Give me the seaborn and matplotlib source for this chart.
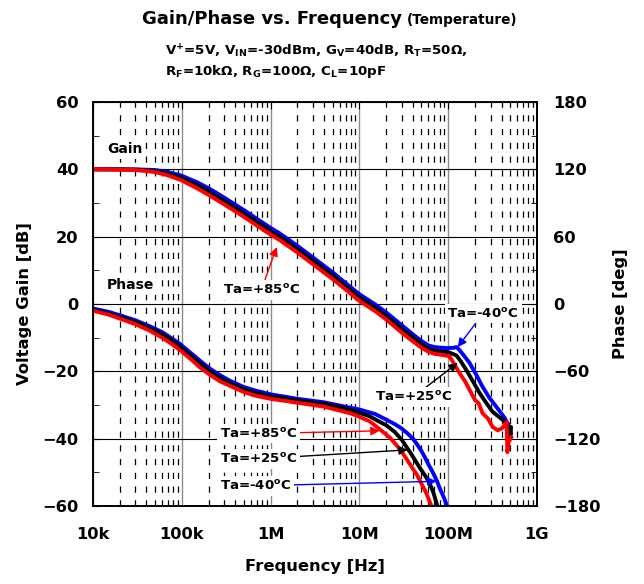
import numpy as np
import pandas as pd
import matplotlib
matplotlib.use('Agg')
import matplotlib.pyplot as plt
import seaborn as sns
from matplotlib.ticker import LogLocator, MultipleLocator, FixedLocator, FixedFormatter, NullFormatter

# gain data [dB]
gain_f_m40 = [1e4, 2e4, 3e4, 5e4, 7e4, 1e5, 1.5e5, 2e5, 3e5, 5e5, 7e5, 1e6, 1.26e6, 2e6, 3e6, 5e6, 7e6, 1e7,
              1.5e7, 2e7, 3e7, 4e7, 5e7, 6e7, 7e7, 8.5e7, 1e8, 1.15e8, 1.24e8, 1.34e8, 1.5e8, 1.74e8,
              2.05e8, 2.44e8, 2.9e8, 3.5e8, 4.31e8, 4.9e8, 5.1e8]
gain_m40 = [40.0, 40.0, 40.0, 39.8, 39.2, 38.1, 36.1, 34.4, 31.6, 27.9, 25.3, 22.6, 21.0, 17.3, 13.8, 9.4, 6.2, 2.9,
            -0.1, -2.5, -6.3, -9.0, -11.0, -12.3, -12.8, -13.0, -13.1, -13.0, -12.8, -13.7, -15.3, -17.5,
            -20.8, -24.6, -27.8, -30.6, -33.8, -36.5, -38.5]

gain_f_25 = [1e4, 2e4, 3e4, 5e4, 7e4, 1e5, 1.5e5, 2e5, 3e5, 5e5, 7e5, 1e6, 1.26e6, 2e6, 3e6, 5e6, 7e6, 1e7,
             1.5e7, 2e7, 3e7, 4e7, 5e7, 6e7, 7e7, 8.5e7, 1e8, 1.12e8, 1.24e8, 1.4e8, 1.6e8, 1.9e8, 2.25e8,
             2.7e8, 3.16e8, 3.6e8, 4.1e8, 4.5e8, 4.9e8, 5.0e8, 5.1e8]
gain_25 = [40.0, 40.0, 39.9, 39.5, 38.7, 37.4, 35.2, 33.4, 30.6, 26.9, 24.3, 21.6, 20.0, 16.3, 12.8, 8.4, 5.2, 1.9,
           -1.1, -3.5, -7.4, -10.0, -12.0, -13.3, -13.9, -14.1, -14.3, -14.8, -15.3, -17.2, -19.6, -23.0, -26.4,
           -29.5, -32.0, -33.2, -34.4, -35.3, -36.6, -39.8, -36.5]

gain_f_85 = [1e4, 2e4, 3e4, 5e4, 7e4, 1e5, 1.5e5, 2e5, 3e5, 5e5, 7e5, 1e6, 1.26e6, 2e6, 3e6, 5e6, 7e6, 1e7,
             1.5e7, 2e7, 3e7, 4e7, 5e7, 6e7, 7e7, 8.5e7, 1.03e8, 1.15e8, 1.34e8, 1.55e8, 1.74e8, 2.0e8,
             2.2e8, 2.44e8, 2.8e8, 3.16e8, 3.6e8, 4.0e8, 4.3e8, 4.54e8, 4.64e8, 4.8e8, 5.17e8]
gain_85 = [40.0, 39.9, 39.8, 39.2, 38.2, 36.7, 34.3, 32.4, 29.6, 25.9, 23.3, 20.6, 19.0, 15.3, 11.8, 7.4, 4.3, 0.9,
           -2.1, -4.6, -8.5, -11.1, -13.0, -14.2, -14.8, -15.1, -15.5, -17.5, -20.5, -23.0, -25.5, -28.5,
           -29.5, -32.5, -34.0, -36.5, -37.5, -37.0, -36.0, -35.0, -44.0, -41.0, -39.5]

# phase data [deg]
ph_f_m40 = [1e4, 1.5e4, 2e4, 3e4, 4.4e4, 6e4, 7.5e4, 9.5e4, 1.3e5, 1.6e5, 2.06e5, 2.7e5, 3.5e5, 5e5, 7e5,
            1e6, 1.5e6, 2e6, 3e6, 4e6, 6e6, 8e6, 1e7, 1.5e7, 2e7, 2.5e7, 3e7, 3.5e7, 4e7, 4.5e7, 5e7,
            5.5e7, 6e7, 6.5e7, 7e7, 7.5e7, 8e7, 8.5e7, 9e7, 9.5e7, 1.02e8]
ph_m40 = [-4, -7, -10, -14.5, -20, -25, -30, -35.5, -44.5, -50.5, -57.5, -63.5, -68.5, -74, -77.5,
          -80.5, -82.8, -84.5, -86.3, -87.6, -90.5, -92.5, -94, -98, -103, -107, -111, -115.5, -120, -125.5, -131,
          -137, -143, -148, -153, -158, -164, -168.5, -173, -178, -184]

ph_f_25 = [1e4, 1.5e4, 2e4, 3e4, 4.4e4, 6e4, 7.5e4, 9.5e4, 1.3e5, 1.6e5, 2.06e5, 2.7e5, 3.5e5, 5e5, 7e5,
           1e6, 1.5e6, 2e6, 3e6, 4e6, 6e6, 8e6, 1e7, 1.3e7, 1.6e7, 2e7, 2.5e7, 3e7, 3.5e7, 4e7, 4.7e7,
           5.5e7, 6.2e7, 6.8e7, 7.3e7, 7.8e7]
ph_25 = [-5, -8.5, -11.5, -16, -21.6, -27, -32, -38, -47, -53, -60, -66, -70.6, -76, -79.5,
         -82.5, -84.5, -86, -87.8, -89, -92, -94.5, -97, -100, -104, -108, -114, -121, -129, -136, -145,
         -153, -160, -168, -176, -184]

ph_f_85 = [1e4, 1.5e4, 2e4, 3e4, 4.4e4, 6e4, 7.5e4, 9.5e4, 1.3e5, 1.6e5, 2.06e5, 2.7e5, 3.5e5, 5e5, 7e5,
           1e6, 1.5e6, 2e6, 3e6, 4e6, 6e6, 8e6, 1e7, 1.3e7, 1.6e7, 2.2e7, 2.7e7, 3.2e7, 3.8e7, 4.5e7, 5.3e7,
           5.7e7, 6.1e7, 6.4e7, 6.7e7]
ph_85 = [-6, -9.5, -13, -18, -24, -30, -35, -41, -50, -56.5, -63, -69, -73, -78.5, -82,
         -84.5, -86.5, -88, -90, -91.5, -95, -97.5, -100.5, -104.5, -110, -119, -127, -135, -144, -153, -164,
         -169, -175, -179, -185]

temps = ['Ta=-40°C', 'Ta=+25°C', 'Ta=+85°C']
colors = {'Ta=-40°C': '#0000ff', 'Ta=+25°C': '#000000', 'Ta=+85°C': '#ff0000'}

gain_df = pd.concat([
    pd.DataFrame({'freq': gain_f_m40, 'val': gain_m40, 'temp': temps[0]}),
    pd.DataFrame({'freq': gain_f_25, 'val': gain_25, 'temp': temps[1]}),
    pd.DataFrame({'freq': gain_f_85, 'val': gain_85, 'temp': temps[2]}),
])
phase_df = pd.concat([
    pd.DataFrame({'freq': ph_f_m40, 'val': ph_m40, 'temp': temps[0]}),
    pd.DataFrame({'freq': ph_f_25, 'val': ph_25, 'temp': temps[1]}),
    pd.DataFrame({'freq': ph_f_85, 'val': ph_85, 'temp': temps[2]}),
])

sns.set_style('white')
plt.rcParams['font.family'] = ['DejaVu Sans']
plt.rcParams['font.weight'] = 'bold'
plt.rcParams['mathtext.default'] = 'bf'
plt.rcParams['text.color'] = 'black'
plt.rcParams['axes.labelcolor'] = 'black'
plt.rcParams['xtick.color'] = 'black'
plt.rcParams['ytick.color'] = 'black'

fig = plt.figure(figsize=(6.44, 5.84), dpi=100)
ax = fig.add_axes([93/644, 1-506/584, (537-93)/644, (506-102)/584])
ax.set_xscale('log')

sns.lineplot(data=gain_df, x='freq', y='val', hue='temp', hue_order=temps, palette=colors,
             lw=2.8, ax=ax, legend=False, sort=False, estimator=None)
ax2 = ax.twinx()
sns.lineplot(data=phase_df, x='freq', y='val', hue='temp', hue_order=temps, palette=colors,
             lw=2.8, ax=ax2, legend=False, sort=False, estimator=None)

ax.set_xlim(1e4, 1e9)
ax.set_ylim(-60, 60)
ax2.set_ylim(-180, 180)

ax.xaxis.set_minor_locator(LogLocator(base=10, subs=np.arange(2, 10), numticks=20))
ax.xaxis.set_minor_formatter(NullFormatter())
ax.xaxis.set_major_locator(FixedLocator([1e4, 1e5, 1e6, 1e7, 1e8, 1e9]))
ax.xaxis.set_major_formatter(FixedFormatter(['10k', '100k', '1M', '10M', '100M', '1G']))
ax.yaxis.set_major_locator(MultipleLocator(20))
ax.yaxis.set_minor_locator(MultipleLocator(10))
ax2.yaxis.set_major_locator(MultipleLocator(60))
ax2.yaxis.set_minor_locator(MultipleLocator(30))

ax.grid(which='major', axis='y', color='black', lw=0.8)
ax.grid(which='major', axis='x', color='#8c8c8c', lw=1.0)
ax.grid(which='minor', axis='x', color='black', lw=0.9, linestyle=(0, (5, 6)))
ax.set_axisbelow(True)

ax.tick_params(which='both', direction='in', top=True, labelsize=11.7)
ax.tick_params(axis='y', which='major', length=5, pad=10.5)
ax.tick_params(axis='y', which='minor', length=4)
ax.tick_params(axis='x', which='major', length=5, pad=15)
ax.tick_params(axis='x', which='minor', length=3)
ax2.tick_params(which='both', direction='in', labelsize=11.7, pad=11.5)
ax2.tick_params(which='major', length=5)
ax2.tick_params(which='minor', length=4)
for a in (ax, ax2):
    for s in a.spines.values():
        s.set_color('black')
        s.set_linewidth(1.2)
    for lab in a.get_xticklabels() + a.get_yticklabels():
        lab.set_fontweight('bold')

ax.set_xlabel('')
ax.set_ylabel('')
ax2.set_ylabel('')
fig.text(315/644, 1-566/584, 'Frequency [Hz]', ha='center', va='center', fontsize=11.8, fontweight='bold')
fig.text(25/644, 1-304/584, 'Voltage Gain [dB]', ha='center', va='center', rotation=90,
         fontsize=11.8, fontweight='bold')
fig.text(620/644, 1-304/584, 'Phase [deg]', ha='center', va='center', rotation=90,
         fontsize=11.8, fontweight='bold')

# title, with the smaller part put right after the main part
t1 = fig.text(142/644, 1-19/584, 'Gain/Phase vs. Frequency', ha='left', va='center',
              fontsize=13, fontweight='bold')
fig.canvas.draw()
bb = t1.get_window_extent()
fig.text((bb.x1 + 5)/644, 1-20/584, '(Temperature)', ha='left', va='center', fontsize=9.8, fontweight='bold')
fig.text(165/644, 1-51/584, 'V$^{+}$=5V, V$_{IN}$=-30dBm, G$_{V}$=40dB, R$_{T}$=50Ω,',
         ha='left', va='center', fontsize=9.6, fontweight='bold')
fig.text(165/644, 1-72/584, 'R$_{F}$=10kΩ, R$_{G}$=100Ω, C$_{L}$=10pF',
         ha='left', va='center', fontsize=9.6, fontweight='bold')

box = dict(fc='white', ec='none', pad=2)
ax.text(1.44e4, 46.0, 'Gain', ha='left', va='center', fontsize=10, bbox=box, zorder=5)
ax.text(1.44e4, 5.6, 'Phase', ha='left', va='center', fontsize=10, bbox=box, zorder=5)


def arrow(a, label, tip, txt, color):
    a.annotate(label, xy=tip, xytext=txt, ha='left', va='center', fontsize=9.6, bbox=box, zorder=6,
               arrowprops=dict(arrowstyle='-|>', color=color, lw=1.0, mutation_scale=13,
                               shrinkA=0, shrinkB=0))


arrow(ax, 'Ta=+85$^{o}$C', (1.17e6, 16.9), (2.9e5, 4.2), 'red')
arrow(ax, 'Ta=-40$^{o}$C', (1.28e8, -12.8), (9.8e7, -2.8), 'blue')
arrow(ax, 'Ta=+25$^{o}$C', (1.28e8, -17.5), (1.49e7, -27.6), 'black')
arrow(ax2, 'Ta=+85$^{o}$C', (1.69e7, -113), (2.68e5, -115.5), 'red')
arrow(ax2, 'Ta=+25$^{o}$C', (3.5e7, -130), (2.68e5, -138), 'black')
arrow(ax2, 'Ta=-40$^{o}$C', (7.4e7, -158), (2.68e5, -162), 'blue')

fig.savefig('out.png', dpi=100)
